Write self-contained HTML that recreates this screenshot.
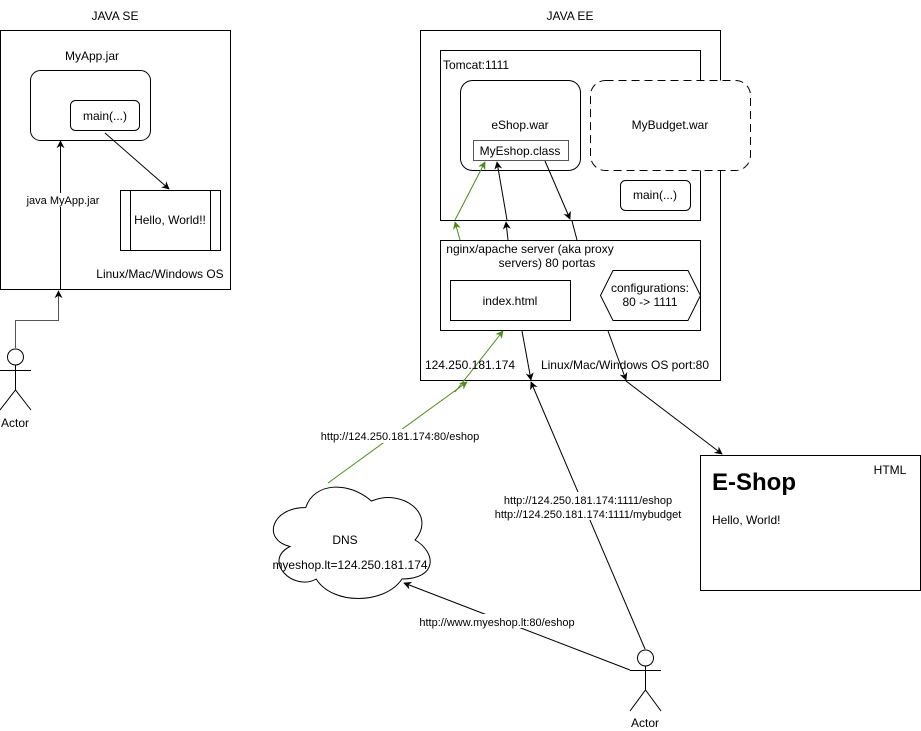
<!DOCTYPE html>
<html><head><meta charset="utf-8"><style>
html,body{margin:0;padding:0;background:#fff;}
svg{display:block;font-family:"Liberation Sans",Arial,sans-serif;}
</style></head><body>
<svg width="921" height="731" viewBox="0 0 921 731" xmlns="http://www.w3.org/2000/svg">
<defs>
<marker id="ab" viewBox="0 0 10 10" refX="9" refY="5" markerWidth="8" markerHeight="8" orient="auto-start-reverse" markerUnits="userSpaceOnUse"><path d="M0,0 L10,5 L0,10 L3,5 Z" fill="#000"/></marker>
<marker id="ag" viewBox="0 0 10 10" refX="9" refY="5" markerWidth="8" markerHeight="8" orient="auto-start-reverse" markerUnits="userSpaceOnUse"><path d="M0,0 L10,5 L0,10 L3,5 Z" fill="#4d8c1a"/></marker>
</defs>
<g font-size="12" fill="#000" stroke="none">
<!-- LEFT -->
<text x="115" y="20" text-anchor="middle">JAVA SE</text>
</g>
<g fill="none" stroke="#000" stroke-width="1">
<rect x="0.5" y="30.5" width="230" height="259"/>
<rect x="30.5" y="70.5" width="120" height="70" rx="10"/>
<rect x="70.5" y="100.5" width="69" height="30" rx="5"/>
<rect x="120.5" y="190.5" width="100" height="60"/>
<line x1="130.5" y1="190.5" x2="130.5" y2="250.5"/>
<line x1="210.5" y1="190.5" x2="210.5" y2="250.5"/>
<line x1="105" y1="133" x2="169" y2="189" marker-end="url(#ab)"/>
<line x1="60.5" y1="290" x2="60.5" y2="141" marker-end="url(#ab)"/>
<polyline points="15.5,348 15.5,320.5 58.5,320.5 58.5,291" stroke="#555" marker-end="url(#ab)"/>
<circle cx="15.5" cy="357" r="8"/>
<line x1="15.5" y1="365" x2="15.5" y2="390"/>
<line x1="0" y1="370.5" x2="31" y2="370.5"/>
<polyline points="0,410 15.5,390 31,410"/>
</g>
<g font-size="12" fill="#000">
<text x="92" y="60" text-anchor="middle">MyApp.jar</text>
<text x="105" y="120" text-anchor="middle">main(...)</text>
<text x="170" y="224" text-anchor="middle">Hello, World!!</text>
<text x="160" y="278" text-anchor="middle">Linux/Mac/Windows OS</text>
<rect x="25" y="193" width="77" height="14" fill="#fff"/>
<text x="63" y="204" text-anchor="middle" font-size="11">java MyApp.jar</text>
<text x="15" y="427" text-anchor="middle">Actor</text>
</g>

<!-- RIGHT -->
<g fill="none" stroke="#000" stroke-width="1">
<rect x="420.5" y="30.5" width="300" height="350"/>
<rect x="440.5" y="50.5" width="260" height="170" fill="#fff"/>
<rect x="460.5" y="80.5" width="120" height="90" rx="12"/>
<rect x="473.5" y="140.5" width="95" height="20" stroke="#555"/>
<rect x="590.5" y="80.5" width="160" height="90" rx="15" fill="#fff" stroke-dasharray="8 5"/>
<rect x="620.5" y="180.5" width="70" height="30" rx="5"/>
<rect x="440.5" y="240.5" width="260" height="90" fill="#fff"/>
<rect x="450.5" y="280.5" width="120" height="40"/>
<polygon points="600.5,295.5 613,270.5 688,270.5 700.5,295.5 688,320.5 613,320.5"/>
<rect x="700.5" y="455.5" width="220" height="135"/>
<path d="M305.75,507.5 C270.75,507.5 262,540 290,546.5 C262,560.8 293.5,592 316.25,579 C332,605 384.5,605 402,579 C437,579 437,553 415.1,540 C437,514 402,488 371.4,501 C349.5,481.5 314.5,481.5 305.75,507.5 Z"/>
<!-- actor -->
<circle cx="645.5" cy="658" r="8"/>
<line x1="645.5" y1="666" x2="645.5" y2="690"/>
<line x1="630" y1="670.5" x2="661" y2="670.5"/>
<polyline points="630,711 645.5,690 661,711"/>
</g>
<!-- connectors -->
<g fill="none" stroke-width="1">
<line x1="328" y1="483" x2="467" y2="382" stroke="#4d8c1a" marker-end="url(#ag)"/>
<line x1="455" y1="392" x2="503" y2="331" stroke="#4d8c1a" marker-end="url(#ag)"/>
<line x1="460" y1="240" x2="455" y2="222" stroke="#4d8c1a" marker-end="url(#ag)"/>
<line x1="455" y1="220" x2="485" y2="162" stroke="#4d8c1a" marker-end="url(#ag)"/>
<line x1="508" y1="240" x2="506" y2="222" stroke="#000" marker-end="url(#ab)"/>
<line x1="507" y1="220" x2="497" y2="162" stroke="#000" marker-end="url(#ab)"/>
<line x1="545" y1="161" x2="570" y2="219" stroke="#000" marker-end="url(#ab)"/>
<line x1="572" y1="221" x2="577" y2="240" stroke="#000"/>
<line x1="608" y1="331" x2="626" y2="380" stroke="#000" marker-end="url(#ab)"/>
<line x1="626" y1="381" x2="722" y2="454" stroke="#000" marker-end="url(#ab)"/>
<line x1="522" y1="331" x2="531" y2="380" stroke="#000" marker-end="url(#ab)"/>
<line x1="645" y1="649" x2="531" y2="382" stroke="#000" marker-end="url(#ab)"/>
<line x1="630" y1="670" x2="404" y2="583" stroke="#000" marker-end="url(#ab)"/>
</g>
<g font-size="12" fill="#000">
<text x="570" y="20" text-anchor="middle">JAVA EE</text>
<text x="443" y="69">Tomcat:1111</text>
<text x="520" y="129" text-anchor="middle">eShop.war</text>
<text x="520" y="155" text-anchor="middle">MyEshop.class</text>
<text x="670" y="129" text-anchor="middle">MyBudget.war</text>
<text x="655" y="199" text-anchor="middle">main(...)</text>
<text x="530" y="253" text-anchor="middle">nginx/apache server (aka proxy</text>
<text x="547" y="267" text-anchor="middle">servers) 80 portas</text>
<text x="510" y="305" text-anchor="middle">index.html</text>
<text x="650" y="292" text-anchor="middle">configurations:</text>
<text x="650" y="306" text-anchor="middle">80 -&gt; 1111</text>
<text x="470" y="369" text-anchor="middle">124.250.181.174</text>
<text x="625" y="369" text-anchor="middle">Linux/Mac/Windows OS port:80</text>
<text x="345" y="544" text-anchor="middle">DNS</text>
<text x="350" y="569" text-anchor="middle">myeshop.lt=124.250.181.174</text>
<text x="645" y="727" text-anchor="middle">Actor</text>
<text x="890" y="474" text-anchor="middle">HTML</text>
<text x="712" y="490" font-size="24" font-weight="bold">E-Shop</text>
<text x="712" y="524">Hello, World!</text>
<g font-size="11">
<rect x="318" y="429" width="164" height="14" fill="#fff"/>
<text x="400" y="440" text-anchor="middle">http://124.250.181.174:80/eshop</text>
<rect x="494" y="492" width="190" height="28" fill="#fff"/>
<text x="588" y="504" text-anchor="middle">http://124.250.181.174:1111/eshop</text>
<text x="588" y="518" text-anchor="middle">http://124.250.181.174:1111/mybudget</text>
<rect x="418" y="614" width="158" height="14" fill="#fff"/>
<text x="497" y="626" text-anchor="middle">http://www.myeshop.lt:80/eshop</text>
</g>
</g>
</svg>
</body></html>
